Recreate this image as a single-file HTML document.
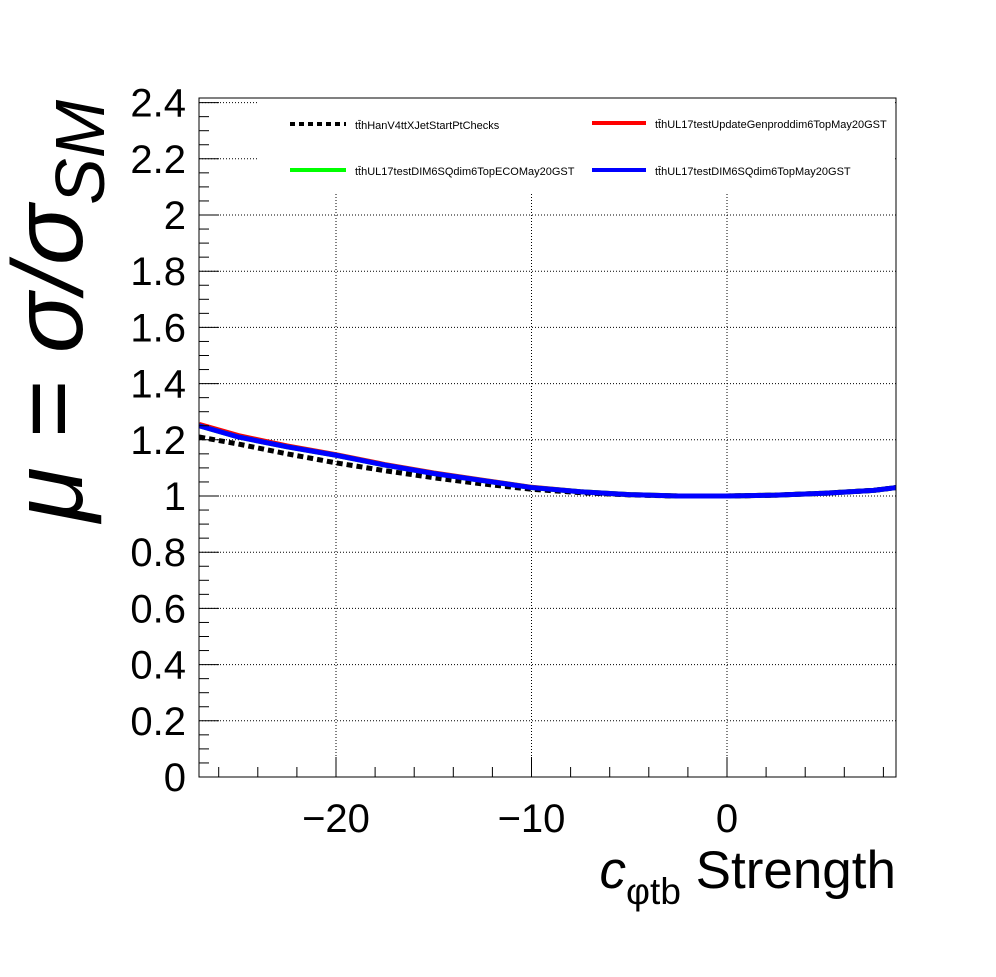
<!DOCTYPE html>
<html><head><meta charset="utf-8"><style>
body{margin:0;background:#fff}
svg text{font-family:"Liberation Sans",sans-serif}
</style></head><body>
<svg id="c" width="996" height="972" xmlns="http://www.w3.org/2000/svg">
<rect width="996" height="972" fill="#fff"/>
<g id="grid"></g>
<g id="series"></g>
<rect x="259" y="99" width="636" height="95" fill="#fff"/>
<rect x="199" y="98" width="697" height="679" fill="none" stroke="#000" stroke-width="1"/>
<g id="axes"></g>
<g font-size="11">
 <g><line x1="290" y1="124" x2="346" y2="124" stroke="#000" stroke-width="4" stroke-dasharray="5,4"/><text x="355" y="129">tt̄hHanV4ttXJetStartPtChecks</text></g>
 <g><line x1="592" y1="123" x2="646" y2="123" stroke="#f00" stroke-width="4"/><text x="655" y="128">tt̄hUL17testUpdateGenproddim6TopMay20GST</text></g>
 <g><line x1="290" y1="170" x2="346" y2="170" stroke="#0f0" stroke-width="4"/><text x="355" y="175">tt̄hUL17testDIM6SQdim6TopECOMay20GST</text></g>
 <g><line x1="592" y1="170" x2="646" y2="170" stroke="#00f" stroke-width="4"/><text x="655" y="175">tt̄hUL17testDIM6SQdim6TopMay20GST</text></g>
</g>
<text transform="translate(82,522) rotate(-90)" font-size="100" font-style="italic">μ = σ/σ<tspan font-size="70" dy="22">SM</tspan></text>
<text x="896" y="888" text-anchor="end" font-size="53"><tspan font-style="italic">c</tspan><tspan font-size="37" dy="16">φtb</tspan><tspan dy="-16"> Strength</tspan></text>
</svg>
<script>
const xs=[-27,-25,-22.5,-20,-17.5,-15,-12.5,-10,-7.5,-5,-2.5,0,2.5,5,7.5,8.65];
const blackVals=[1.21,1.185,1.15,1.118,1.09,1.065,1.043,1.024,1.012,1.004,1.0,1.0,1.003,1.01,1.02,1.03];
const redVals=[1.255,1.215,1.178,1.147,1.112,1.082,1.056,1.031,1.015,1.005,1.0,1.0,1.003,1.01,1.02,1.03];
const greenVals=[1.25,1.21,1.175,1.145,1.11,1.08,1.055,1.03,1.015,1.005,1.0,1.0,1.003,1.01,1.02,1.03];
const blueVals=[1.25,1.21,1.175,1.145,1.11,1.08,1.055,1.03,1.015,1.005,1.0,1.0,1.003,1.01,1.02,1.03];
const yTicks=["0","0.2","0.4","0.6","0.8","1","1.2","1.4","1.6","1.8","2","2.2","2.4"];
const xTicks=["−20","−10","0"];
const xTickVals=[-20,-10,0];
const X=v=>727+v*19.55, Y=v=>777-v*281;
const NS="http://www.w3.org/2000/svg";
function mk(t,a,p){const e=document.createElementNS(NS,t);for(const k in a)e.setAttribute(k,a[k]);p.appendChild(e);return e;}
const grid=document.getElementById('grid'),axes=document.getElementById('axes'),ser=document.getElementById('series');
yTicks.forEach(t=>{const v=parseFloat(t),y=Y(v);
 const g=mk('line',{x1:199,x2:896,y1:y,y2:y,stroke:'#000','stroke-width':1,'stroke-dasharray':'1,2'},grid);
 
 
 const l=mk('text',{x:186,y:y+14,'text-anchor':'end','font-size':40},axes);l.textContent=t;
 
 
});
for(let v=0;v<=2.4001;v+=0.05){const y=Y(v),maj=Math.abs(v*5-Math.round(v*5))<1e-6;
 mk('line',{x1:199,x2:199+(maj?20:10),y1:y,y2:y,stroke:'#000'},axes);}
xTickVals.forEach((v,i)=>{const x=X(v);
 const g=mk('line',{x1:x,x2:x,y1:194,y2:777,stroke:'#000','stroke-dasharray':'1,2'},grid);
 
 
 const l=mk('text',{x:x,y:832,'text-anchor':'middle','font-size':40},axes);l.textContent=xTicks[i];
 
 
});
for(let v=-26;v<=8;v+=2){const x=X(v),maj=v%10===0;
 mk('line',{x1:x,x2:x,y1:777,y2:777-(maj?20:10),stroke:'#000'},axes);}
function line(vals,col,name,dash,w){
 const p=mk('polyline',{points:xs.map((x,i)=>X(x)+','+Y(vals[i])).join(' '),fill:'none',stroke:col,'stroke-width':w},ser);
 if(dash)p.setAttribute('stroke-dasharray',dash);
 
 
}
line(redVals,'#f00','series-red',null,5);
line(greenVals,'#0f0','series-green',null,5);
line(blackVals,'#000','series-black','6,4',5);
line(blueVals,'#00f','series-blue',null,5);
</script>
</body></html>
